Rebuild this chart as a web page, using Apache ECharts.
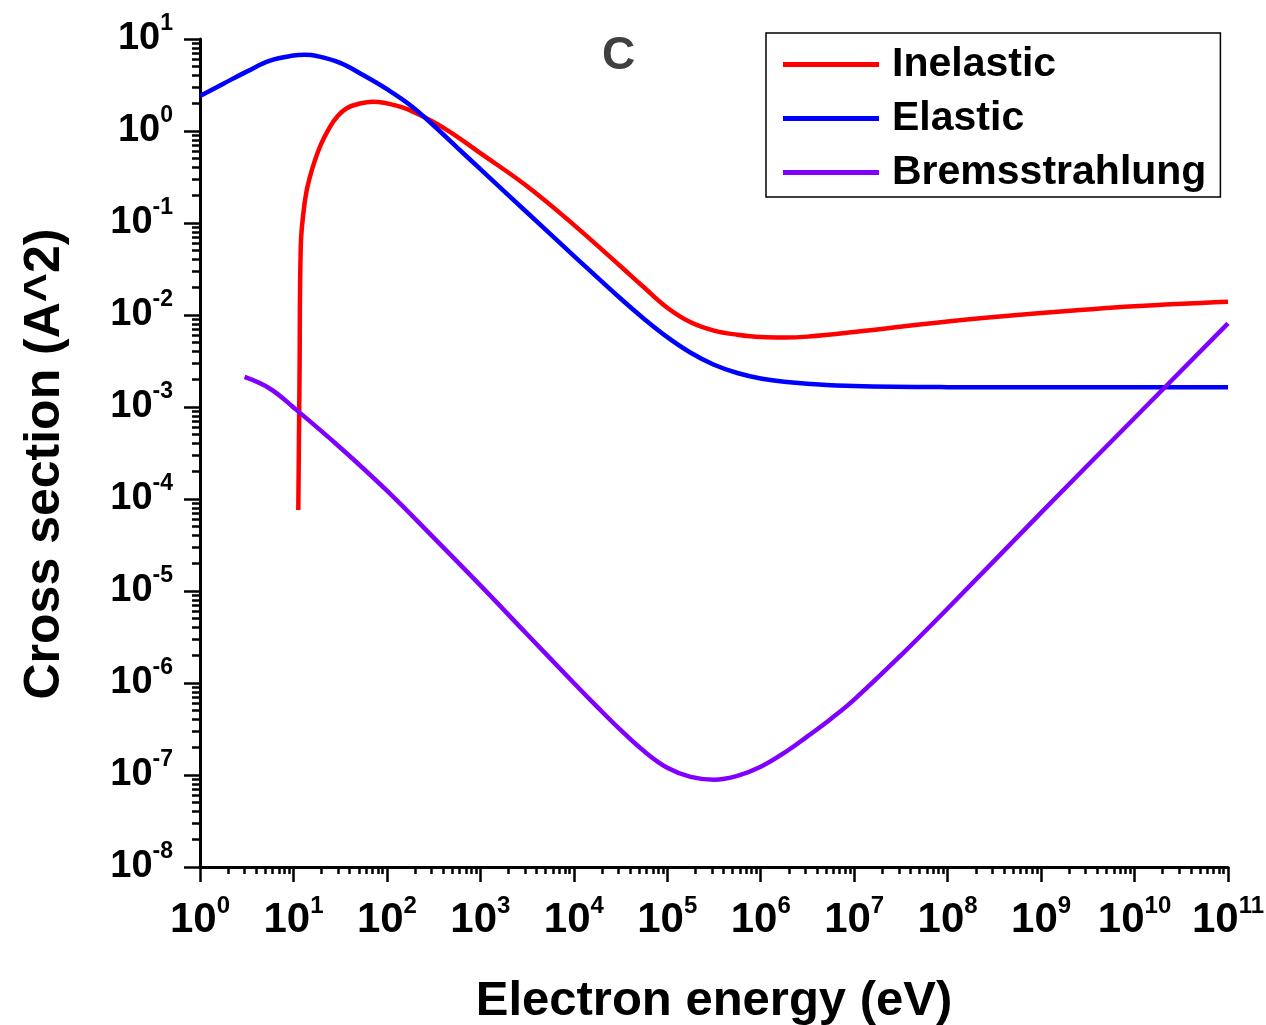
<!DOCTYPE html>
<html><head><meta charset="utf-8">
<script src="https://cdn.jsdelivr.net/npm/echarts@6/dist/echarts.min.js"></script>
<style>html,body{margin:0;padding:0;background:#fff}#c{width:1266px;height:1025px}</style>
</head><body><div id="c"></div><script>
const FONT = '"Liberation Sans", Arial, Helvetica, sans-serif';

// tick labels (decades)
const xMajorTicks = [1e0,1e1,1e2,1e3,1e4,1e5,1e6,1e7,1e8,1e9,1e10,1e11];
const yMajorTicks = [1e-8,1e-7,1e-6,1e-5,1e-4,1e-3,1e-2,1e-1,1e0,1e1];

// series: energy (eV) and cross section (A^2)
const inelasticE = [11.27, 11.61, 11.97, 13.3, 15.0, 19.2, 24.6, 29.5, 37.2, 51.5, 71, 138, 226, 437, 1000, 3160, 1e4, 3.16e4, 5.62e4, 1e5, 1.78e5, 3.16e5, 5.62e5, 1e6, 1.78e6, 3.16e6, 1e7, 1e8, 1e9, 1e10, 1e11];
const inelasticS = [7.6e-5, 0.00207, 0.0552, 0.178, 0.318, 0.674, 1.11, 1.44, 1.77, 1.99, 2.08, 1.84, 1.49, 1.03, 0.575, 0.251, 0.0955, 0.0339, 0.020, 0.0120, 0.00832, 0.00676, 0.0061, 0.00575, 0.00569, 0.00582, 0.00653, 0.00851, 0.0105, 0.01245, 0.01396];

const elasticE = [1, 1.78, 3.16, 5.62, 10, 13.2, 17.8, 31.6, 56.2, 100, 178, 316, 562, 1000, 3160, 1e4, 3.16e4, 5.62e4, 1e5, 1.78e5, 3.16e5, 5.62e5, 1e6, 1.78e6, 3.16e6, 1e7, 1e8, 1e9, 1e10, 1e11];
const elasticS = [2.40, 3.27, 4.42, 5.82, 6.61, 6.73, 6.53, 5.50, 4.03, 2.85, 1.905, 1.148, 0.664, 0.385, 0.130, 0.044, 0.0151, 0.00912, 0.00575, 0.00389, 0.00288, 0.00234, 0.00204, 0.00188, 0.00179, 0.00169, 0.001644, 0.001637, 0.001637, 0.001637];

const bremsE = [3, 5.62, 10, 31.6, 100, 316, 1000, 3160, 1e4, 1.78e4, 3.16e4, 5.62e4, 1e5, 1.78e5, 3.16e5, 5.62e5, 1e6, 1.78e6, 3.16e6, 5.62e6, 1e7, 3.16e7, 1e8, 1e9, 1e10, 1e11];
const bremsS = [2.12e-3, 1.58e-3, 9.9e-4, 3.63e-4, 1.23e-4, 3.8e-5, 1.15e-5, 3.39e-6, 1.0e-6, 5.5e-7, 3.09e-7, 1.82e-7, 1.20e-7, 9.55e-8, 8.9e-8, 9.8e-8, 1.23e-7, 1.74e-7, 2.63e-7, 4.07e-7, 6.6e-7, 2.0e-6, 6.46e-6, 7.1e-5, 7.6e-4, 8.1e-3];

const seriesNames = ['Inelastic', 'Elastic', 'Bremsstrahlung'];
const seriesColors = ['#ff0000', '#0000ff', '#7f00ff'];

function minorsOf(majors) {
  const out = [];
  for (let i = 0; i < majors.length - 1; i++) {
    for (let k = 2; k <= 9; k++) out.push(majors[i] * k);
  }
  return out;
}
function pairs(xs, ys) { return xs.map((x, i) => [x, ys[i]]); }
function expLabel(v) {
  const n = Math.round(Math.log10(v));
  return '{b|10}{s|' + n + '}';
}

const chart = echarts.init(document.getElementById('c'), null, {renderer: 'canvas'});
const axisLineStyle = {color: '#000', width: 3};

function makeRich(bSize, bLine, sSize) {
  return {
    b: {fontSize: bSize, fontWeight: 'bold', fontFamily: FONT, color: '#000', lineHeight: bLine},
    s: {fontSize: sSize, fontWeight: 'bold', fontFamily: FONT, color: '#000', lineHeight: sSize, verticalAlign: 'top'}
  };
}

const option = {
  backgroundColor: '#fff',
  animation: false,
  grid: {left: 200, right: 38, top: 39, bottom: 158, containLabel: false, outerBoundsMode: 'none'},
  legend: {
    orient: 'vertical', left: 766, top: 33,
    data: seriesNames,
    icon: 'rect', itemWidth: 96, itemHeight: 5, itemGap: 13,
    padding: [11, 14, 4, 17],
    borderColor: '#000', borderWidth: 1.5, backgroundColor: '#fff',
    textStyle: {fontSize: 41, fontWeight: 'bold', fontFamily: FONT, color: '#000', lineHeight: 40, padding: [0, 0, 0, 8]}
  },
  graphic: [{
    type: 'text', left: 602, top: 33, silent: true,
    style: {text: 'C', fontSize: 46, fontWeight: 'bold', fontFamily: FONT, fill: '#404040'}
  }],
  xAxis: [{
    type: 'log', logBase: 10, min: 1, max: 1e11, position: 'bottom',
    name: 'Electron energy (eV)', nameLocation: 'middle', nameGap: 110,
    nameTextStyle: {fontSize: 49, fontWeight: 'bold', fontFamily: FONT, color: '#000'},
    axisLine: {show: true, lineStyle: axisLineStyle},
    axisTick: {show: true, inside: false, length: 15, lineStyle: {color: '#000', width: 2.5}, customValues: xMajorTicks},
    axisLabel: {show: true, margin: 27, customValues: xMajorTicks, formatter: expLabel, rich: makeRich(42, 52, 24)},
    splitLine: {show: false}, minorTick: {show: false}
  }, {
    type: 'log', logBase: 10, min: 1, max: 1e11, position: 'bottom',
    axisLine: {show: false},
    axisTick: {show: true, inside: false, length: 7, lineStyle: {color: '#000', width: 2.5}, customValues: minorsOf(xMajorTicks)},
    axisLabel: {show: false}, splitLine: {show: false}
  }],
  yAxis: [{
    type: 'log', logBase: 10, min: 1e-8, max: 10, position: 'left',
    name: 'Cross section (A^2)', nameLocation: 'middle', nameGap: 130, nameRotate: 90,
    nameTextStyle: {fontSize: 50, fontWeight: 'bold', fontFamily: FONT, color: '#000', padding: [0, 22, 0, 0]},
    axisLine: {show: true, lineStyle: axisLineStyle},
    axisTick: {show: true, inside: false, length: 16, lineStyle: {color: '#000', width: 2.5}, customValues: yMajorTicks},
    axisLabel: {show: true, margin: 27, customValues: yMajorTicks, formatter: expLabel, rich: makeRich(38, 54, 23)},
    splitLine: {show: false}, minorTick: {show: false}
  }, {
    type: 'log', logBase: 10, min: 1e-8, max: 10, position: 'left',
    axisLine: {show: false},
    axisTick: {show: true, inside: false, length: 8, lineStyle: {color: '#000', width: 2.5}, customValues: minorsOf(yMajorTicks)},
    axisLabel: {show: false}, splitLine: {show: false}
  }],
  series: [
    {name: seriesNames[0], type: 'line', data: pairs(inelasticE, inelasticS)},
    {name: seriesNames[1], type: 'line', data: pairs(elasticE, elasticS)},
    {name: seriesNames[2], type: 'line', data: pairs(bremsE, bremsS)}
  ].map((s, i) => Object.assign(s, {
    xAxisIndex: 0, yAxisIndex: 0, showSymbol: false, symbol: 'none', smooth: 0.4,
    color: seriesColors[i],
    itemStyle: {color: seriesColors[i]},
    lineStyle: {color: seriesColors[i], width: 4.5}
  }))
};
chart.setOption(option);
</script></body></html>
